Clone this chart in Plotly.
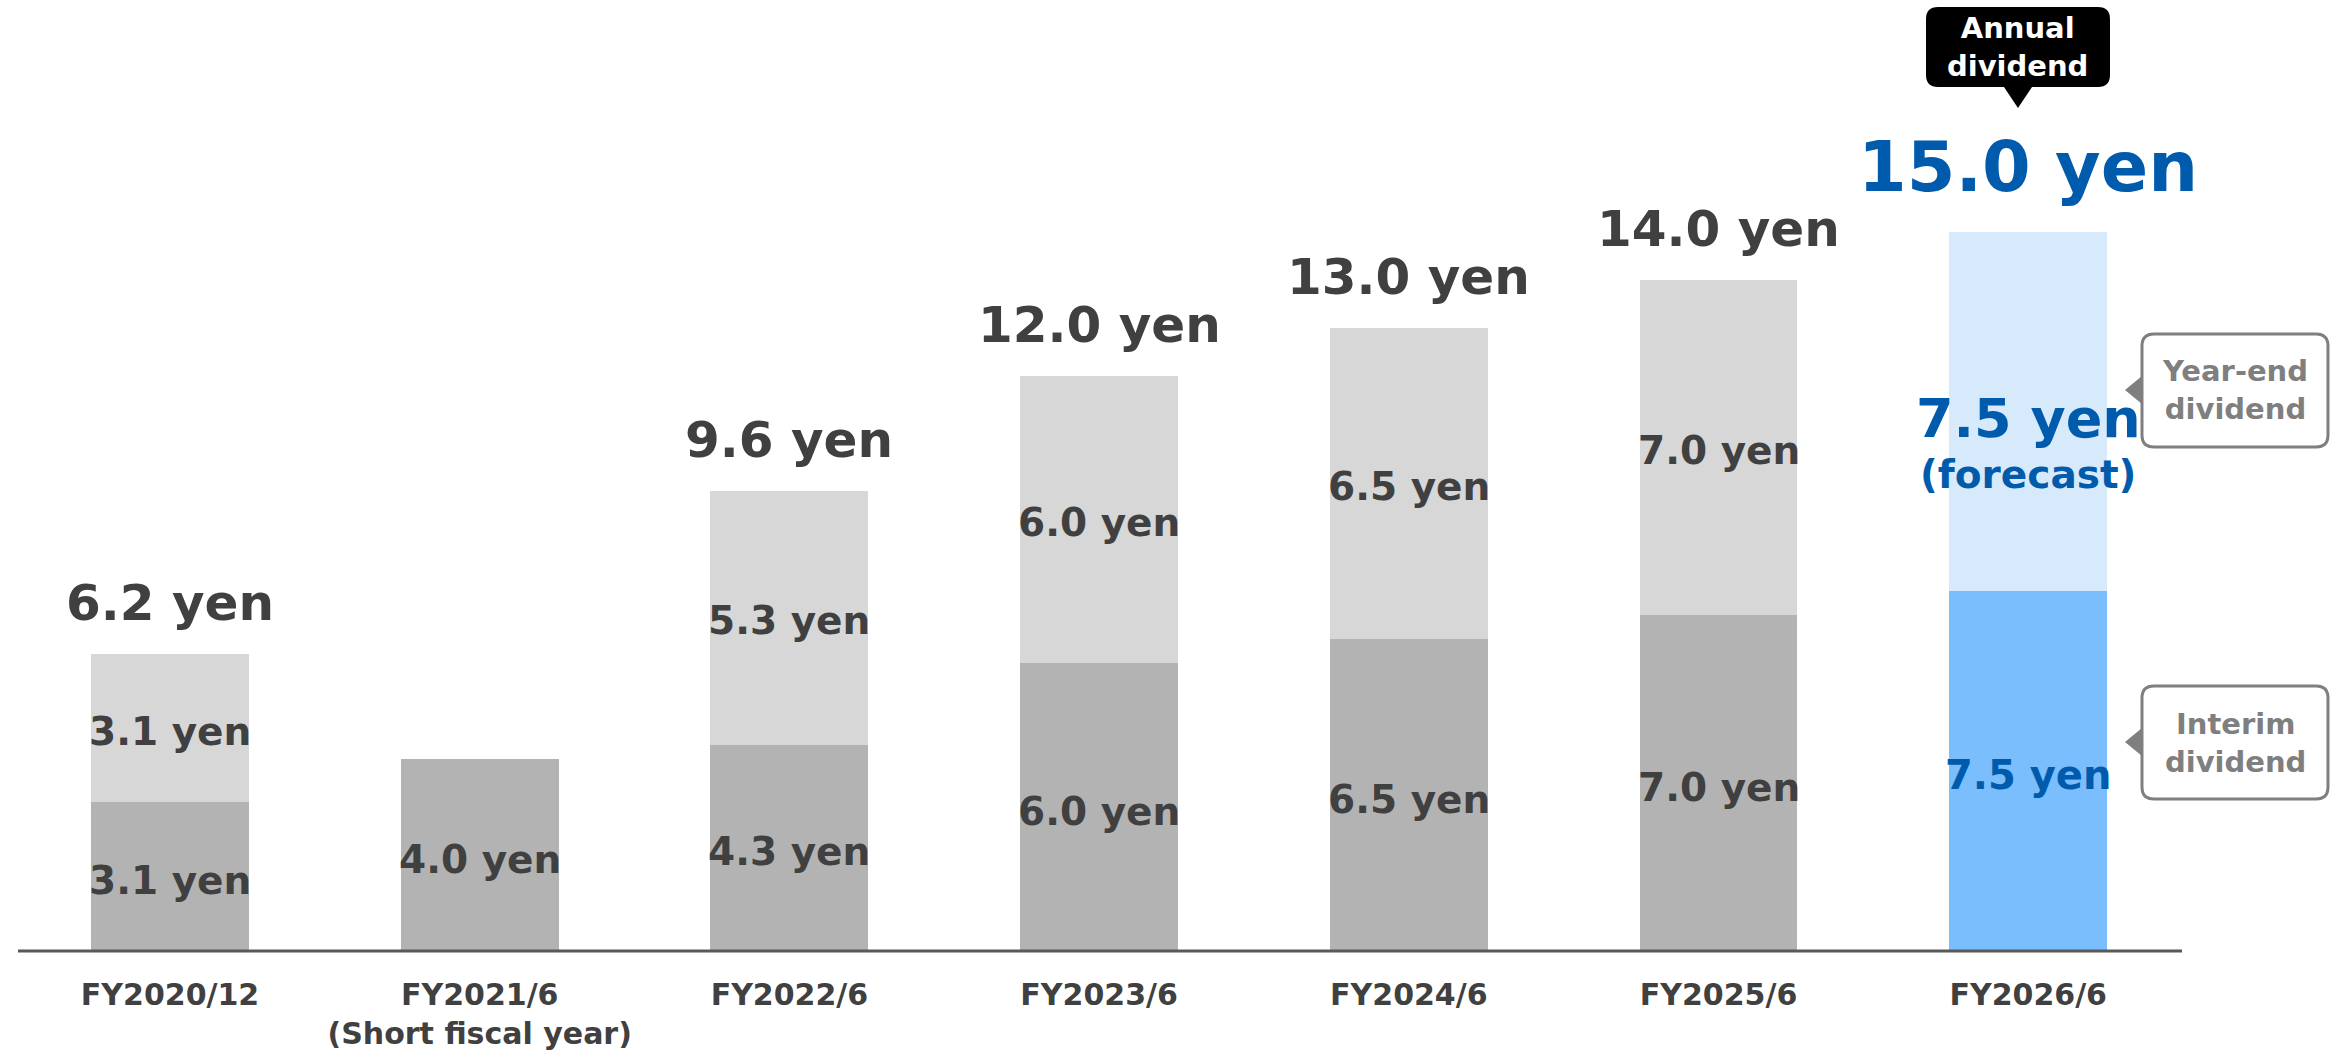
import plotly.graph_objects as go

# ---- data -----------------------------------------------------------------
categories = [
    "FY2020/12",
    "FY2021/6<br>(Short fiscal year)",
    "FY2022/6",
    "FY2023/6",
    "FY2024/6",
    "FY2025/6",
    "FY2026/6",
]
interim = [3.1, 4.0, 4.3, 6.0, 6.5, 7.0, 7.5]
year_end = [3.1, 0.0, 5.3, 6.0, 6.5, 7.0, 7.5]
is_forecast_year = [False, False, False, False, False, False, True]

# ---- styling --------------------------------------------------------------
W, H = 2340, 1055
PLOT_BOTTOM = 951            # pixel row of the baseline
FONT = "DejaVu Sans"
DARK = "#404040"
BLUE = "#005bac"
CALLOUT_GRAY = "#7f7f7f"

interim_colors = ["#7abefd" if f else "#b3b3b3" for f in is_forecast_year]
year_end_colors = ["#d6eafc" if f else "#d7d7d7" for f in is_forecast_year]

x_pos = list(range(len(categories)))
totals = [a + b for a, b in zip(interim, year_end)]


def px(x):
    return x / W


def py(y):
    return (PLOT_BOTTOM - y) / PLOT_BOTTOM


def P(x, y):
    return f"{px(x):.5f},{py(y):.5f}"


def box_path(x0, y0, x1, y1, r, pointer=None):
    """Rounded rectangle (pixel coords) with an optional downward pointer."""
    d = (f"M{P(x0 + r, y0)} L{P(x1 - r, y0)} Q{P(x1, y0)} {P(x1, y0 + r)} "
         f"L{P(x1, y1 - r)} Q{P(x1, y1)} {P(x1 - r, y1)} ")
    if pointer:
        tx, ty, half = pointer
        d += f"L{P(tx + half, y1)} L{P(tx, ty)} L{P(tx - half, y1)} "
    d += (f"L{P(x0 + r, y1)} Q{P(x0, y1)} {P(x0, y1 - r)} "
          f"L{P(x0, y0 + r)} Q{P(x0, y0)} {P(x0 + r, y0)} Z")
    return d


def left_arrow(x_edge, y_mid, depth, half):
    return f"M{P(x_edge, y_mid - half)} L{P(x_edge - depth, y_mid)} L{P(x_edge, y_mid + half)} Z"


fig = go.Figure()
fig.add_trace(go.Bar(
    x=x_pos, y=interim, name="Interim dividend",
    marker=dict(color=interim_colors, line=dict(width=0)),
    width=0.51, hoverinfo="skip",
))
fig.add_trace(go.Bar(
    x=x_pos, y=year_end, name="Year-end dividend",
    marker=dict(color=year_end_colors, line=dict(width=0)),
    width=0.51, hoverinfo="skip",
))

annotations = []
for i, (a, b, tot) in enumerate(zip(interim, year_end, totals)):
    fc = is_forecast_year[i]
    col = BLUE if fc else DARK
    # interim segment label
    annotations.append(dict(
        x=i, y=a / 2, xref="x", yref="y", text=f"{a:.1f} yen",
        showarrow=False, xanchor="center", yanchor="middle", yshift=-4,
        font=dict(family=FONT, size=40 if fc else 39, color=col, weight="bold"),
    ))
    if b > 0:
        mid = a + b / 2
        annotations.append(dict(
            x=i, y=mid, xref="x", yref="y", text=f"{b:.1f} yen",
            showarrow=False, xanchor="center", yanchor="middle",
            yshift=-7 if fc else -3,
            font=dict(family=FONT, size=54 if fc else 39, color=col, weight="bold"),
        ))
        if fc:
            annotations.append(dict(
                x=i, y=mid, xref="x", yref="y", text="(forecast)",
                showarrow=False, xanchor="center", yanchor="middle", yshift=-63,
                font=dict(family=FONT, size=39, color=BLUE, weight="bold"),
            ))
        # annual total above the bar
        annotations.append(dict(
            x=i, y=tot, xref="x", yref="y", text=f"{tot:.1f} yen",
            showarrow=False, xanchor="center", yanchor="bottom",
            yshift=22 if fc else 20,
            font=dict(family=FONT, size=70 if fc else 50, color=col, weight="bold"),
        ))

# callout texts
annotations.append(dict(
    x=px(2017), y=py(47), xref="paper", yref="paper", text="Annual<br>dividend",
    showarrow=False, xanchor="center", yanchor="middle",
    font=dict(family=FONT, size=29, color="white", weight="bold"),
))
annotations.append(dict(
    x=px(2235), y=py(390), xref="paper", yref="paper", text="Year-end<br>dividend",
    showarrow=False, xanchor="center", yanchor="middle",
    font=dict(family=FONT, size=29, color=CALLOUT_GRAY, weight="bold"),
))
annotations.append(dict(
    x=px(2235), y=py(743), xref="paper", yref="paper", text="Interim<br>dividend",
    showarrow=False, xanchor="center", yanchor="middle",
    font=dict(family=FONT, size=29, color=CALLOUT_GRAY, weight="bold"),
))

shapes = [
    # baseline
    dict(type="line", xref="paper", yref="paper", x0=px(18), x1=px(2182),
         y0=0, y1=0, line=dict(color="#595959", width=3), layer="above"),
    # "Annual dividend" black balloon
    dict(type="path", xref="paper", yref="paper",
         path=box_path(1926, 7, 2110, 87, 12, pointer=(2018, 108, 14)),
         fillcolor="black", line=dict(width=0)),
    # "Year-end dividend" balloon
    dict(type="path", xref="paper", yref="paper",
         path=box_path(2142, 334, 2328, 447, 12),
         fillcolor="white", line=dict(color=CALLOUT_GRAY, width=3)),
    dict(type="path", xref="paper", yref="paper",
         path=left_arrow(2142, 390, 17, 14),
         fillcolor=CALLOUT_GRAY, line=dict(width=0)),
    # "Interim dividend" balloon
    dict(type="path", xref="paper", yref="paper",
         path=box_path(2142, 686, 2328, 799, 12),
         fillcolor="white", line=dict(color=CALLOUT_GRAY, width=3)),
    dict(type="path", xref="paper", yref="paper",
         path=left_arrow(2142, 742, 17, 14),
         fillcolor=CALLOUT_GRAY, line=dict(width=0)),
]

SPACING = 309.7
x_lo = -170 / SPACING
x_hi = x_lo + W / SPACING

fig.update_layout(
    width=W, height=H,
    margin=dict(l=0, r=0, t=0, b=H - PLOT_BOTTOM, pad=0),
    barmode="stack", showlegend=False,
    paper_bgcolor="white", plot_bgcolor="white",
    annotations=annotations, shapes=shapes,
    xaxis=dict(
        range=[x_lo, x_hi], tickmode="array", tickvals=x_pos, ticktext=categories,
        showgrid=False, zeroline=False, showline=False, ticks="",
        tickfont=dict(family=FONT, size=30, color=DARK, weight="bold"),
        ticklabelstandoff=23,
    ),
    yaxis=dict(range=[0, PLOT_BOTTOM / 47.95], visible=False, showgrid=False),
)

fig.write_html("out.html")
